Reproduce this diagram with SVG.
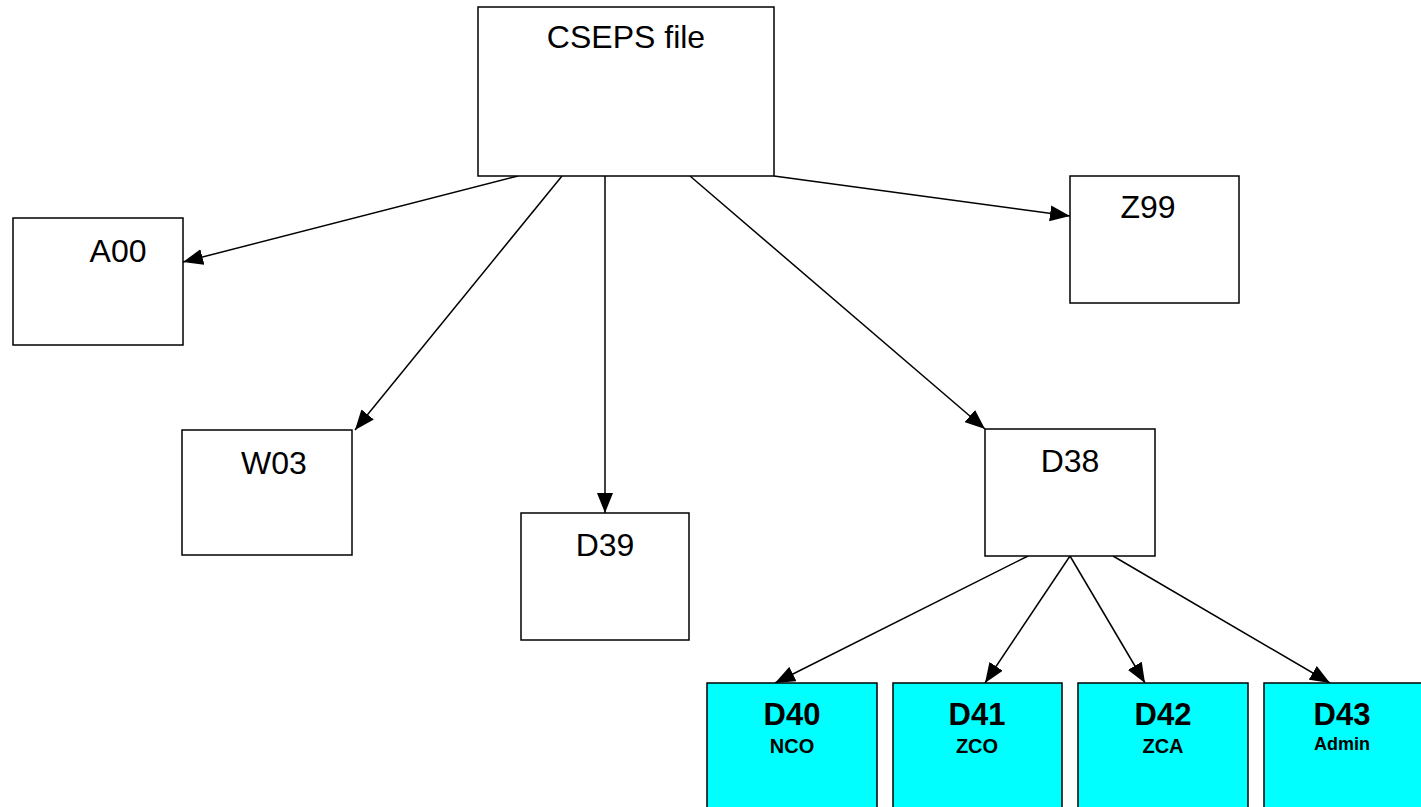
<svg xmlns="http://www.w3.org/2000/svg" width="1421" height="807" viewBox="0 0 1421 807">
<style>
.box{fill:#fff;stroke:#000;stroke-width:1.5}
.cy{fill:#00ffff;stroke:#000;stroke-width:1.5}
.t{font-family:"Liberation Sans",Arial,sans-serif;font-size:32px;text-anchor:middle;fill:#000}
.b{font-family:"Liberation Sans",Arial,sans-serif;font-size:31px;font-weight:bold;text-anchor:middle;fill:#000}
.s{font-family:"Liberation Sans",Arial,sans-serif;font-size:20px;font-weight:bold;text-anchor:middle;fill:#000}
.c{stroke:#000;stroke-width:1.5;fill:none;marker-end:url(#ah)}
</style>
<defs>
<marker id="ah" markerWidth="20" markerHeight="16" refX="20" refY="8" orient="auto" markerUnits="userSpaceOnUse" viewBox="0 0 20 16">
<path d="M0,0 L20,8 L0,16 z" fill="#000"/>
</marker>
</defs>
<rect width="1421" height="807" fill="#fff"/>
<g id="connectors">
<line class="c" x1="518" y1="176" x2="183" y2="262"/>
<line class="c" x1="562" y1="176" x2="355" y2="430"/>
<line class="c" x1="605" y1="176" x2="605" y2="513"/>
<line class="c" x1="690" y1="176" x2="985" y2="429"/>
<line class="c" x1="774" y1="176" x2="1070" y2="216"/>
<line class="c" x1="1028" y1="556" x2="775" y2="683"/>
<line class="c" x1="1070" y1="556" x2="985" y2="683"/>
<line class="c" x1="1070" y1="556" x2="1145" y2="683"/>
<line class="c" x1="1113" y1="556" x2="1330" y2="683"/>
</g>
<g id="cseps"><rect class="box" x="478" y="7" width="296" height="169"/><text class="t" x="626" y="48">CSEPS file</text></g>
<g id="a00"><rect class="box" x="13" y="218" width="170" height="127"/><text class="t" x="118" y="262">A00</text></g>
<g id="z99"><rect class="box" x="1070" y="176" width="169" height="127"/><text class="t" x="1148" y="218">Z99</text></g>
<g id="w03"><rect class="box" x="182" y="430" width="170" height="125"/><text class="t" x="274" y="474">W03</text></g>
<g id="d39"><rect class="box" x="521" y="513" width="168" height="127"/><text class="t" x="605" y="556">D39</text></g>
<g id="d38"><rect class="box" x="985" y="429" width="170" height="127"/><text class="t" x="1070" y="472">D38</text></g>
<g id="d40"><rect class="cy" x="707" y="683" width="170" height="130"/><text class="b" x="792" y="725">D40</text><text class="s" x="792" y="753">NCO</text></g>
<g id="d41"><rect class="cy" x="893" y="683" width="169" height="130"/><text class="b" x="977" y="725">D41</text><text class="s" x="977" y="753">ZCO</text></g>
<g id="d42"><rect class="cy" x="1078" y="683" width="170" height="130"/><text class="b" x="1163" y="725">D42</text><text class="s" x="1163" y="753">ZCA</text></g>
<g id="d43"><rect class="cy" x="1264" y="683" width="170" height="130"/><text class="b" x="1342" y="725">D43</text><text class="s" x="1342" y="750" style="font-size:18px">Admin</text></g>
</svg>
